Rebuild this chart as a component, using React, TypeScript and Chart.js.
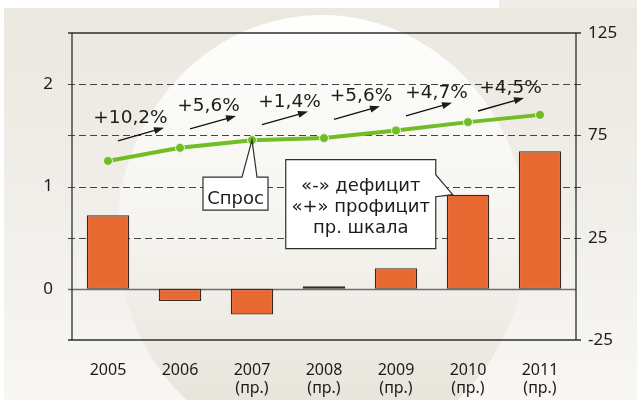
import React, { useEffect, useRef } from 'react';
import { Chart, registerables } from 'chart.js';

Chart.register(...registerables);

const categories: (string | string[])[] = [
  '2005',
  '2006',
  ['2007', '(пр.)'],
  ['2008', '(пр.)'],
  ['2009', '(пр.)'],
  ['2010', '(пр.)'],
  ['2011', '(пр.)'],
];
const demand = [1.25, 1.378, 1.453, 1.473, 1.547, 1.629, 1.7];
const balance = [36, -6, -12.6, 1.3, 10.1, 46, 67.2];
const growthLabels = ['+10,2%', '+5,6%', '+1,4%', '+5,6%', '+4,7%', '+4,5%'];
const leftTickLabels = [0, 1, 2];
const rightTickLabels = [-25, 25, 75, 125];
const dashedGridValues = [0.5, 1, 1.5, 2];
const demandLabel = 'Спрос';
const legendLines = ['«-» дефицит', '«+» профицит', 'пр. шкала'];

const GREEN = '#72bd25';
const ORANGE = '#e86832';
const TEXT = '#1f1b18';
const FRAME = '#2f2f2f';

const bgPlugin = {
  id: 'bg',
  beforeDraw(chart: any) {
    const { ctx, width, height } = chart;
    ctx.save();
    ctx.fillStyle = '#ffffff';
    ctx.fillRect(0, 0, width, height);
    const g = ctx.createLinearGradient(0, 8, 0, height);
    g.addColorStop(0, '#ebe8e0');
    g.addColorStop(0.55, '#f1efea');
    g.addColorStop(1, '#f8f7f4');
    ctx.fillStyle = g;
    ctx.fillRect(4, 8, width - 4, height - 8);
    ctx.fillStyle = '#efede7';
    ctx.fillRect(499, 0, width - 499, 8);
    const g2 = ctx.createLinearGradient(0, 15, 0, 455);
    g2.addColorStop(0, '#fefefd');
    g2.addColorStop(0.45, '#f6f5f1');
    g2.addColorStop(1, '#e4e0d6');
    ctx.fillStyle = g2;
    ctx.beginPath();
    ctx.ellipse(322, 235, 205, 220, 0, 0, Math.PI * 2);
    ctx.fill();
    ctx.restore();
  },
};

const framePlugin = {
  id: 'frame',
  beforeDatasetsDraw(chart: any) {
    const { ctx, chartArea, scales } = chart;
    const { left, right, top, bottom } = chartArea;
    const y = scales.y;
    ctx.save();
    ctx.strokeStyle = '#444';
    ctx.lineWidth = 1.2;
    ctx.setLineDash([7, 4]);
    for (const v of dashedGridValues) {
      const py = Math.round(y.getPixelForValue(v)) + 0.5;
      ctx.beginPath();
      ctx.moveTo(left - 4, py);
      ctx.lineTo(right + 5, py);
      ctx.stroke();
    }
    ctx.setLineDash([]);
    const y0 = Math.round(y.getPixelForValue(0)) + 0.5;
    ctx.strokeStyle = '#6e6e6e';
    ctx.lineWidth = 1.4;
    ctx.beginPath();
    ctx.moveTo(left - 4, y0);
    ctx.lineTo(right, y0);
    ctx.stroke();
    ctx.strokeStyle = FRAME;
    ctx.lineWidth = 1.3;
    ctx.beginPath();
    ctx.moveTo(left - 4, top);
    ctx.lineTo(right + 5, top);
    ctx.moveTo(left - 4, bottom);
    ctx.lineTo(right + 5, bottom);
    ctx.moveTo(left, top);
    ctx.lineTo(left, bottom);
    ctx.moveTo(right, top);
    ctx.lineTo(right, bottom);
    ctx.stroke();
    ctx.restore();
  },
};

const arrowLift = [20, 21.5, 21, 21.5, 17, 14];
const textShift = [-10.5, -4.5, 4.5, 4, 7.5, 9.5];

const annotPlugin = {
  id: 'annot',
  afterDatasetsDraw(chart: any) {
    const { ctx } = chart;
    const pts = chart.getDatasetMeta(0).data;
    const bars = chart.getDatasetMeta(1).data;
    ctx.save();
    ctx.fillStyle = TEXT;
    ctx.strokeStyle = '#111';
    ctx.font = '18.5px "DejaVu Sans"';
    ctx.textAlign = 'center';
    ctx.textBaseline = 'alphabetic';
    for (let i = 0; i < growthLabels.length; i++) {
      const a = pts[i];
      const b = pts[i + 1];
      const mx = (a.x + b.x) / 2 - 3;
      const my = (a.y + b.y) / 2 - arrowLift[i];
      const x1 = mx - 23;
      const y1 = my + 6.5;
      const x2 = mx + 23;
      const y2 = my - 6.5;
      const ang = Math.atan2(y2 - y1, x2 - x1);
      ctx.lineWidth = 1.3;
      ctx.beginPath();
      ctx.moveTo(x1, y1);
      ctx.lineTo(x2 - 6 * Math.cos(ang), y2 - 6 * Math.sin(ang));
      ctx.stroke();
      ctx.beginPath();
      ctx.moveTo(x2, y2);
      ctx.lineTo(x2 - 10 * Math.cos(ang) + 3.5 * Math.sin(ang), y2 - 10 * Math.sin(ang) - 3.5 * Math.cos(ang));
      ctx.lineTo(x2 - 10 * Math.cos(ang) - 3.5 * Math.sin(ang), y2 - 10 * Math.sin(ang) + 3.5 * Math.cos(ang));
      ctx.closePath();
      ctx.fill();
      ctx.fillText(growthLabels[i], mx + textShift[i], y1 - 18);
    }

    const tip = pts[2];
    const bl = tip.x - 49;
    const br = tip.x + 16;
    const bt = tip.y + 37;
    const bb = tip.y + 70;
    ctx.fillStyle = '#ffffff';
    ctx.strokeStyle = FRAME;
    ctx.lineWidth = 1.2;
    ctx.beginPath();
    ctx.moveTo(bl, bt);
    ctx.lineTo(tip.x - 10, bt);
    ctx.lineTo(tip.x, tip.y);
    ctx.lineTo(tip.x + 5, bt);
    ctx.lineTo(br, bt);
    ctx.lineTo(br, bb);
    ctx.lineTo(bl, bb);
    ctx.closePath();
    ctx.fill();
    ctx.stroke();
    ctx.fillStyle = TEXT;
    ctx.font = '18px "DejaVu Sans"';
    ctx.fillText(demandLabel, (bl + br) / 2, bb - 6);

    const bar = bars[5];
    const tx = bar.x - bar.width / 2 + 6;
    const ty = bar.y;
    const lr = tx - 17;
    const ll = lr - 150;
    const lt = ty - 35;
    const lb = ty + 54;
    ctx.fillStyle = '#ffffff';
    ctx.beginPath();
    ctx.moveTo(ll, lt);
    ctx.lineTo(lr, lt);
    ctx.lineTo(lr, ty - 20);
    ctx.lineTo(tx, ty);
    ctx.lineTo(lr, ty + 2);
    ctx.lineTo(lr, lb);
    ctx.lineTo(ll, lb);
    ctx.closePath();
    ctx.fill();
    ctx.stroke();
    ctx.fillStyle = TEXT;
    legendLines.forEach((t, i) => {
      ctx.fillText(t, (ll + lr) / 2, lt + 31 + i * 21);
    });
    ctx.restore();
  },
};

export default function App() {
  const ref = useRef<HTMLCanvasElement>(null);
  useEffect(() => {
    const canvas = ref.current!;
    const chart = new Chart(canvas, {
      data: {
        labels: categories as any,
        datasets: [
          {
            type: 'line',
            label: demandLabel,
            data: demand,
            yAxisID: 'y',
            borderColor: GREEN,
            borderWidth: 4,
            pointRadius: 4.5,
            pointBackgroundColor: GREEN,
            pointBorderColor: '#e9f5dc',
            pointBorderWidth: 1,
            tension: 0,
            order: 0,
          } as any,
          {
            type: 'bar',
            label: 'balance',
            data: balance,
            yAxisID: 'y2',
            backgroundColor: ORANGE,
            borderColor: '#3b2a20',
            borderWidth: 1.3,
            borderSkipped: false,
            barPercentage: 0.59,
            categoryPercentage: 1,
            order: 1,
          } as any,
        ],
      },
      options: {
        animation: false,
        responsive: false,
        devicePixelRatio: 1,
        layout: { padding: { top: 33, left: 0, right: 0, bottom: 0 } },
        plugins: { legend: { display: false }, tooltip: { enabled: false } },
        scales: {
          x: {
            grid: { display: false, drawTicks: false },
            border: { display: false },
            ticks: {
              font: { family: 'Noto Sans', size: 16, lineHeight: 1.125 },
              color: TEXT,
              padding: 21,
              maxRotation: 0,
              autoSkip: false,
            },
            afterFit: (s: any) => {
              s.height = 60;
            },
          },
          y: {
            position: 'left',
            min: -0.5,
            max: 2.5,
            grid: { display: false, drawTicks: false },
            border: { display: false },
            ticks: {
              stepSize: 0.5,
              font: { family: 'Noto Sans', size: 17 },
              color: TEXT,
              padding: 19,
              callback: (v: any) => (leftTickLabels.includes(Number(v)) ? String(v) : ''),
            },
            afterFit: (s: any) => {
              s.width = 72;
            },
          },
          y2: {
            position: 'right',
            min: -25,
            max: 125,
            grid: { display: false, drawTicks: false },
            border: { display: false },
            ticks: {
              stepSize: 25,
              font: { family: 'Noto Sans', size: 17 },
              color: TEXT,
              padding: 12,
              callback: (v: any) => (rightTickLabels.includes(Number(v)) ? String(v) : ''),
            },
            afterFit: (s: any) => {
              s.width = 61;
            },
          },
        },
      } as any,
      plugins: [bgPlugin, framePlugin, annotPlugin],
    });
    return () => chart.destroy();
  }, []);
  return (
    <div style={{ position: 'absolute', left: 0, top: 0, width: 637, height: 400 }}>
      <canvas ref={ref} width={637} height={400} style={{ display: 'block' }} />
    </div>
  );
}
